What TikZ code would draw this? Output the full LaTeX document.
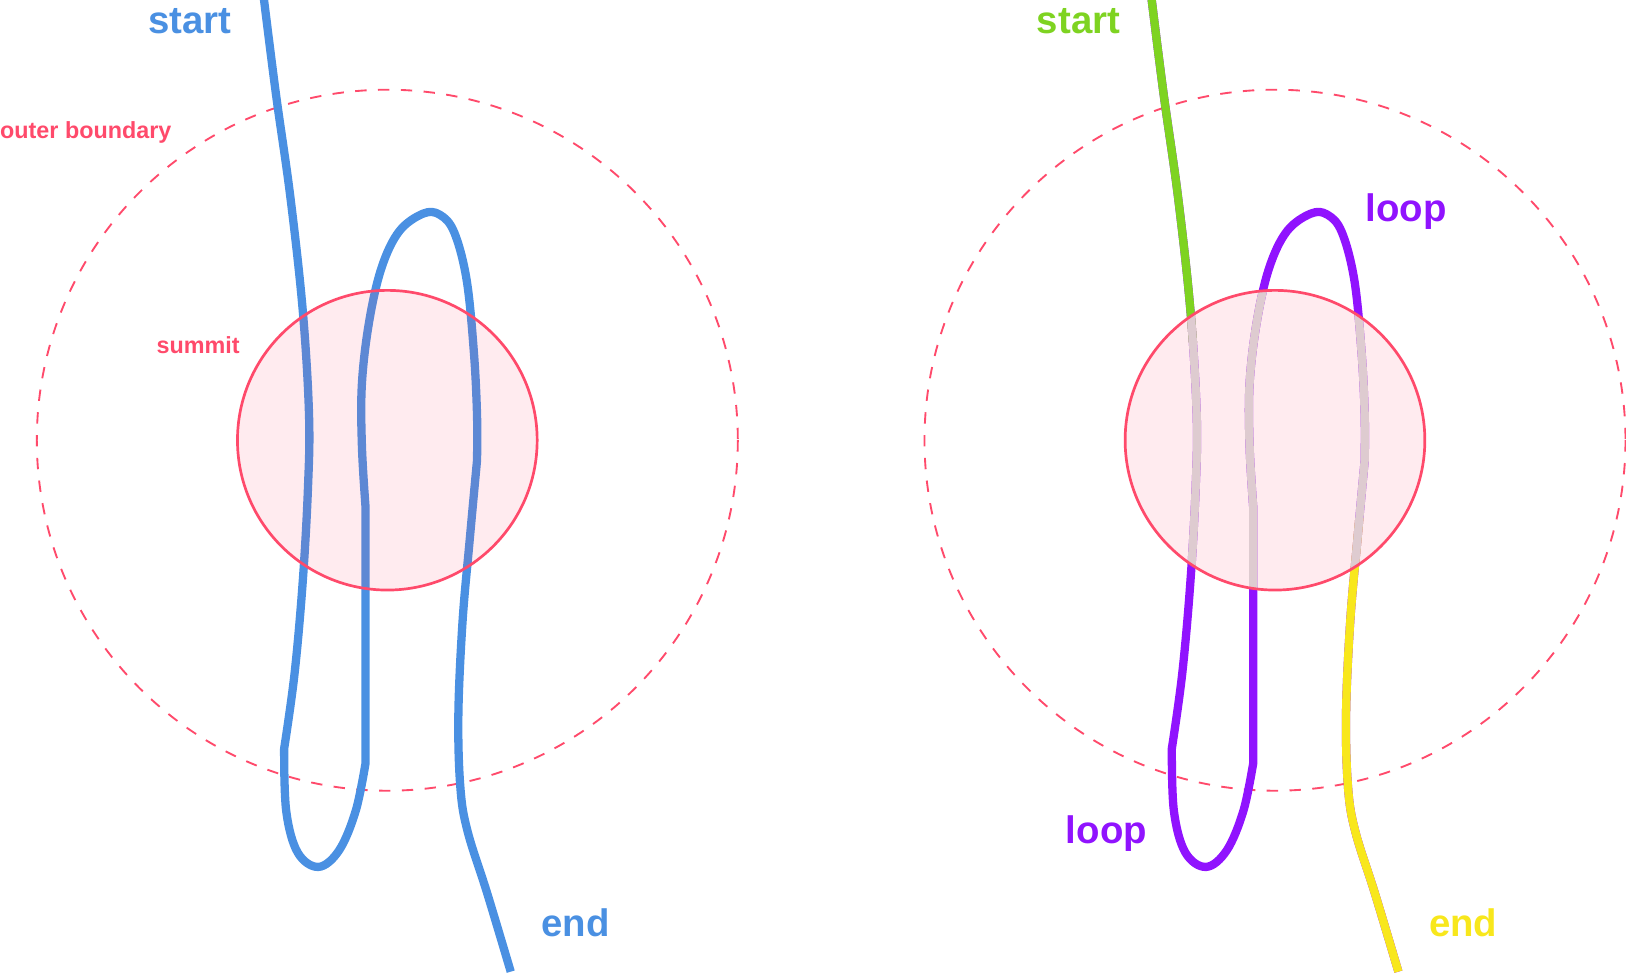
\documentclass[tikz,border=0pt]{standalone}
\usepackage{fontspec}
\setmainfont{Liberation Sans}
\begin{document}
\begin{tikzpicture}[x=1pt,y=-1pt,
  bigtext/.style={font=\bfseries\fontsize{37}{40}\selectfont, inner sep=0pt},
  smalltext/.style={font=\bfseries\fontsize{22.5}{26}\selectfont, inner sep=0pt, text=summitred},
  knotline/.style={line width=8pt, line join=round},
  outerring/.style={draw=summitred, line width=1.8pt, dash pattern=on 11pt off 11pt},
  summitring/.style={draw=summitred, line width=2.6pt},
  summitfill/.style={fill=summitred, fill opacity=0.11}
]
\definecolor{summitred}{HTML}{FF4A6B}
\definecolor{knotblue}{HTML}{4A90E2}
\definecolor{knotgreen}{HTML}{7ED321}
\definecolor{knotpurple}{HTML}{9013FE}
\definecolor{knotyellow}{HTML}{F8E71C}
\definecolor{knotgrey}{HTML}{DADCDD}
\def\knot{plot[smooth, tension=0.6] coordinates {(254,-5) (266,90) (280,190) (292,300) (298,400) (297,470) (292,560) (284,650) (274,722)}
  -- plot[smooth, tension=0.6] coordinates {(274,722) (276,782) (287,822) (307,836) (327,820) (343,782) (352.5,736)}
  -- (352.5,489)
  -- plot[smooth, tension=0.6] coordinates {(352.5,489) (349,430) (349,370) (356,310) (368,258) (385,223) (408,206) (424,207) (438,224) (450,270) (457,340) (460,400) (460,444)}
  -- plot[smooth, tension=0.6] coordinates {(460,444) (453,520) (446,600) (442,690) (444,760) (451,802) (470,862) (492.5,937)}}
\useasboundingbox (0,0) rectangle (1568,940);

% ---------- left panel ----------
\coordinate (cL) at (373.5,424.5);
\draw[outerring] (cL) circle[radius=338];
\draw[knotline, draw=knotblue] \knot;
\path[summitfill] (cL) circle[radius=144.5];
\draw[summitring] (cL) circle[radius=144.5];
\node[bigtext, text=knotblue, anchor=base] (startL) at (183,32) {start};
\node[bigtext, text=knotblue, anchor=base] (endL) at (555,903) {end};
\node[smalltext, anchor=base west] (outerlabel) at (0,134) {outer boundary};
\node[smalltext, anchor=base] (summitlabel) at (191,341) {summit};

% ---------- right panel ----------
\begin{scope}[xshift=856pt]
\coordinate (cR) at (373.5,424.5);
\draw[outerring] (cR) circle[radius=338];
\draw[knotline, draw=knotpurple] \knot;
\begin{scope}
  \clip (200,-10) rectangle (330,330);
  \draw[knotline, draw=knotgreen] \knot;
\end{scope}
\begin{scope}
  \clip (400,500) rectangle (530,950);
  \draw[knotline, draw=knotyellow] \knot;
\end{scope}
\begin{scope}
  \clip (cR) circle[radius=144.5];
  \draw[knotline, draw=knotgrey] \knot;
\end{scope}
\path[summitfill] (cR) circle[radius=144.5];
\draw[summitring] (cR) circle[radius=144.5];
\end{scope}
\node[bigtext, text=knotgreen, anchor=base] (startR) at (1040,32) {start};
\node[bigtext, text=knotpurple, anchor=base] (loopT) at (1356,214) {loop};
\node[bigtext, text=knotpurple, anchor=base] (loopB) at (1067,813) {loop};
\node[bigtext, text=knotyellow, anchor=base] (endR) at (1411,903) {end};
\end{tikzpicture}
\end{document}
